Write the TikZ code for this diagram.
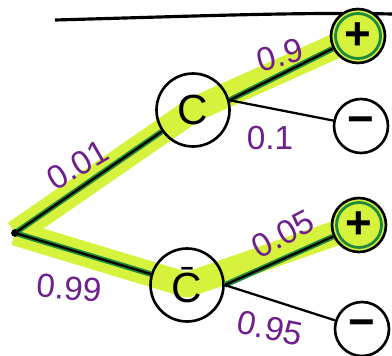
\documentclass[tikz,border=0pt]{standalone}
\usepackage{fontspec}
\setmainfont{Liberation Sans}
\usepackage{tikz}
\usetikzlibrary{backgrounds}

\definecolor{hilite}{HTML}{D6F23C}
\definecolor{penpurple}{HTML}{6E1F8C}
\definecolor{pengreen}{HTML}{1F8A3E}

\begin{document}
\begin{tikzpicture}[
  x=0.02cm, y=-0.02cm,
  evt/.style={draw,circle,line width=1.5pt,minimum size=1.46cm,inner sep=0pt,font=\fontsize{24}{26}\selectfont},
  leaf/.style={draw,circle,line width=1.5pt,minimum size=1.08cm,inner sep=0pt,font=\fontsize{26}{28}\selectfont\bfseries},
  hit/.style={leaf,fill=hilite,path picture={\draw[pengreen,line width=1.6pt] (path picture bounding box.center) circle (0.45cm);}},
  prob/.style={text=penpurple,inner sep=0pt,font=\fontsize{19}{22}\selectfont},
  branch/.style={line width=1.3pt},
  hl/.style={line width=0.5cm,hilite,line join=round},
  pen/.style={line width=3.2pt,pengreen}
]
\useasboundingbox (0,0) rectangle (392,355);

\draw[line width=1.8pt] (55,20) .. controls (200,16) and (300,12) .. (392,14);

\coordinate (root) at (15,233);
\node[evt] (c) at (193,110) {C};
\node[evt] (cbar) at (187,285) {\={C}};
\node[hit] (cpos) at (358,36) {+};
\node[leaf] (cneg) at (361,126) {−};
\node[hit] (cbpos) at (359,225) {+};
\node[leaf] (cbneg) at (362,329) {−};

\begin{scope}[on background layer]
  \draw[hl] (root) -- (c.center) -- (cpos.center);
  \draw[hl] (root) -- (cbar.center) -- (cbpos.center);
\end{scope}

\draw[pen] (root) -- (c);
\draw[pen] (c.15) -- (cpos);
\draw[pen] (root) -- (cbar);
\draw[pen] (cbar.east) -- (cbpos);

\draw[branch] (root) -- (c);
\draw[branch] (c.15) -- (cpos);
\draw[branch] (c.15) -- (cneg);
\draw[branch] (root) -- (cbar);
\draw[branch] (cbar.east) -- (cbpos);
\draw[branch] (cbar.east) -- (cbneg);
\fill (root) circle (2.2pt);

\node[prob,rotate=30] (p1) at (78,165) {0.01};
\node[prob,rotate=-5] (p2) at (69,288) {0.99};
\node[prob,rotate=15] (p3) at (280,55) {0.9};
\node[prob] (p4) at (270,138) {0.1};
\node[prob,rotate=28] (p5) at (283,234) {0.05};
\node[prob,rotate=-12] (p6) at (270,328) {0.95};
\end{tikzpicture}
\end{document}
